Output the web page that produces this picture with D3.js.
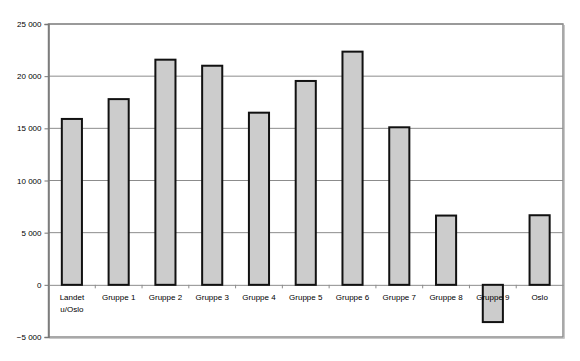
<!DOCTYPE html>
<html><head><meta charset="utf-8">
<script src="https://cdn.jsdelivr.net/npm/d3@7/dist/d3.min.js"></script>
<style>body{margin:0;background:#fff}svg{display:block}</style>
</head><body>
<script>
const categories = ["Landet\nu/Oslo","Gruppe 1","Gruppe 2","Gruppe 3","Gruppe 4","Gruppe 5","Gruppe 6","Gruppe 7","Gruppe 8","Gruppe 9","Oslo"];
const values = [15900, 17800, 21580, 21000, 16500, 19540, 22350, 15100, 6640, -3570, 6670];
const yTicks = [-5000, 0, 5000, 10000, 15000, 20000, 25000];

const W = 580, H = 361;
const m = {l: 48.5, r: 17, t: 24, b: 24};
const svg = d3.select("body").append("svg").attr("width", W).attr("height", H);
const x = d3.scaleBand().domain(categories).range([m.l, W - m.r]).paddingInner(0.57).paddingOuter(0.285);
const xb = d3.scaleBand().domain(categories).range([m.l, W - m.r]);
const y = d3.scaleLinear().domain([-5000, 25000]).range([H - m.b, m.t]);
const fmt = v => d3.format(",")(v).replace(/,/g, "\u2009").replace("\u2009", " ").replace("-", "-");
const font = "'Liberation Sans', Arial, sans-serif";

// gridlines
svg.append("g").selectAll("line").data(yTicks.filter(d => d !== 0 && d !== -5000)).join("line")
  .attr("x1", m.l).attr("x2", W - m.r).attr("y1", d => y(d)).attr("y2", d => y(d))
  .attr("stroke", "#8c8c8c").attr("stroke-width", 1);

// plot border (top/right/bottom)
svg.append("rect").attr("x", m.l).attr("y", y(25000)).attr("width", W - m.r - m.l).attr("height", y(-5000) - y(25000))
  .attr("fill", "none").attr("stroke", "#8c8c8c").attr("stroke-width", 1.5);
svg.append("path").attr("d", `M${m.l+1},${y(-5000)+1.5}H${W-m.r+1.5}V${y(25000)+1}`)
  .attr("fill", "none").attr("stroke", "#c8c8c8").attr("stroke-width", 1);

// y axis
const ya = svg.append("g").attr("transform", `translate(${m.l},0)`)
  .call(d3.axisLeft(y).tickValues(yTicks).tickSize(4).tickFormat(d => d3.format(",")(d).replace(/,/g, " ")));
ya.select(".domain").attr("stroke", "#777").attr("stroke-width", 1.5);
ya.selectAll(".tick line").attr("stroke", "#777");
ya.selectAll("text").attr("font-family", font).attr("font-size", 8).attr("fill", "#000").attr("x", -7);

// zero line with x ticks
const xa = svg.append("g").attr("transform", `translate(0,${y(0)})`)
  .call(d3.axisBottom(xb).tickSize(0).tickFormat(""));
xa.select(".domain").attr("stroke", "#8c8c8c").attr("stroke-width", 1);
svg.append("g").selectAll("line").data(categories.slice(1)).join("line")
  .attr("x1", d => xb(d)).attr("x2", d => xb(d)).attr("y1", y(0)).attr("y2", y(0) + 3.5)
  .attr("stroke", "#8c8c8c");

// bars
svg.append("g").selectAll("rect").data(values).join("rect")
  .attr("x", (d, i) => x(categories[i]))
  .attr("width", x.bandwidth())
  .attr("y", d => y(Math.max(0, d)))
  .attr("height", d => Math.abs(y(d) - y(0)))
  .attr("fill", "#cccccc").attr("stroke", "#111").attr("stroke-width", 2);

// x labels
const lab = svg.append("g").selectAll("text").data(categories).join("text")
  .attr("x", d => xb(d) + xb.bandwidth() / 2).attr("y", y(0) + 15.5)
  .attr("text-anchor", "middle").attr("font-family", font).attr("font-size", 8).attr("fill", "#000");
lab.each(function(d) {
  const parts = d.split("\n");
  d3.select(this).selectAll("tspan").data(parts).join("tspan")
    .attr("x", xb(d) + xb.bandwidth() / 2).attr("dy", (p, i) => i ? 11.5 : 0).text(p => p);
});
</script>
</body></html>
